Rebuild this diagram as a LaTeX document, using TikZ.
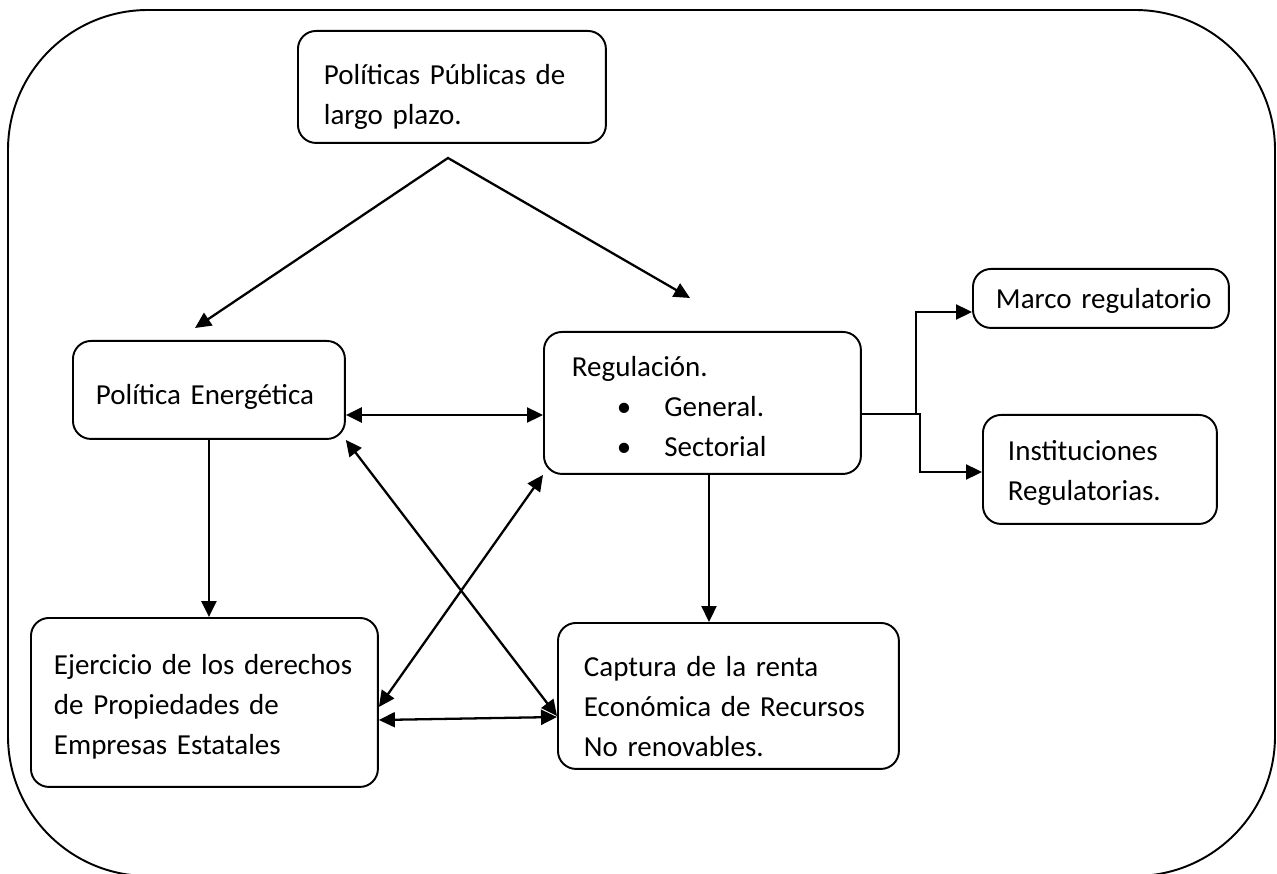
\documentclass[tikz,border=0pt]{standalone}
\usepackage{fontspec}
\setmainfont{Carlito}
\usetikzlibrary{arrows.meta}
\usetikzlibrary{positioning}

% pushes the first line of a box down
\newcommand{\padtop}[1]{\rule{0pt}{#1}}

\begin{document}
\begin{tikzpicture}[x=0.02cm,y=-0.02cm,>={Triangle[length=0.32cm,width=0.3cm]},line width=1.3pt,
  font=\fontsize{16.5}{22.7}\selectfont,
  main node/.style={rectangle,draw,rounded corners=0.36cm,line width=1.1pt,anchor=north west,align=left,inner ysep=0pt}]

\useasboundingbox (0,0) rectangle (1277,874);
\draw[line width=1.1pt,rounded corners=2.8cm] (8,10) rectangle (1275,876);

            \node[main node,minimum width=6.16cm,minimum height=2.24cm,inner xsep=0.52cm,text width=5.12cm] (plp) at (297,30) {\padtop{23.2pt}Políticas Públicas de\\largo plazo.};
            \node[main node,minimum width=5.44cm,minimum height=1.96cm,inner xsep=0.46cm,text width=4.52cm] (pe) at (72,340) {\padtop{19.8pt}\mbox{Política Energética}};
            \node[main node,minimum width=6.34cm,minimum height=2.84cm,inner xsep=0.56cm,text width=5.22cm] (reg) at (543,331)
                {\padtop{15.3pt}Regulación.\\\hspace*{0.9cm}\textbullet\hspace{0.66cm}General.\\\hspace*{0.9cm}\textbullet\hspace{0.66cm}Sectorial};
            \node[main node,minimum width=5.12cm,minimum height=1.18cm,inner xsep=0.46cm,text width=4.2cm] (marco) at (972,268) {\padtop{14.7pt}\mbox{Marco regulatorio}};
            \node[main node,minimum width=4.68cm,minimum height=2.18cm,inner xsep=0.5cm,text width=3.68cm] (inst) at (982,414) {\padtop{15.3pt}Instituciones\\Regulatorias.};
            \node[main node,minimum width=6.94cm,minimum height=3.38cm,inner xsep=0.46cm,text width=6.02cm] (ejer) at (30,617) {\padtop{16.4pt}Ejercicio de los derechos\\de Propiedades de\\Empresas Estatales};
            \node[main node,minimum width=6.82cm,minimum height=2.92cm,inner xsep=0.52cm,text width=5.78cm] (cap) at (557,622) {\padtop{23.2pt}Captura de la renta\\Económica de Recursos\\No renovables.};

            \coordinate (apex) at (448,158);
            \coordinate (peTip) at (195,328);
            \coordinate (regTip) at (690,298);
            \draw[<->] (peTip) -- (apex) -- (regTip);

            \path (pe.east |- 0,415) edge[<->] (reg.west |- 0,415);
            \path (pe.south) edge[->] (pe.south |- ejer.north);
            \path (reg.south -| 709,0) edge[->] (cap.north -| 709,0);
            \path (pe.south east) edge[<->] (cap.west |- 0,716)
                (reg.south west) edge[<->] (ejer.east |- 0,707)
                (ejer.east |- 0,720) edge[<->] (cap.west |- 0,717);

            \coordinate (fork) at (916,414);
            \coordinate (fork2) at (920,414);
            \draw[->] (reg.east |- fork) -- (fork) |- (marco.west |- 0,312);
            \draw[->] (fork) -- (fork2) |- (inst.west |- 0,472);

\end{tikzpicture}
\end{document}
